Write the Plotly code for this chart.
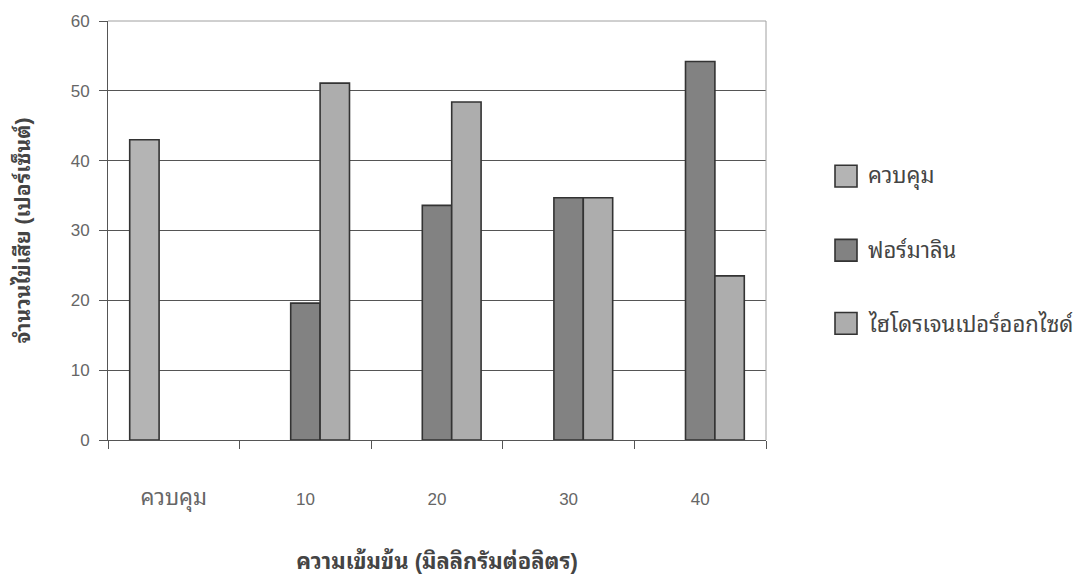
import plotly.graph_objects as go

# Egg spoilage by treatment and concentration
categories = ["ควบคุม", "10", "20", "30", "40"]
control = [43.0, None, None, None, None]
formalin = [None, 19.6, 33.6, 34.7, 54.2]
peroxide = [None, 51.1, 48.4, 34.7, 23.5]

series_names = ["ควบคุม", "ฟอร์มาลิน", "ไฮโดรเจนเปอร์ออกไซด์"]
series_colors = ["#b4b4b4", "#828282", "#adadad"]

FONT = "Liberation Sans, Noto Sans Thai Looped, Noto Sans Thai, Arial, sans-serif"

W, H = 1089, 585
ML, MR, MT, MB = 108, 323, 16, 145
PW, PH = W - ML - MR, H - MT - MB


def px_x(px):
    return (px - ML) / PW


def px_y(py):
    return (H - MB - py) / PH


# wider rendering for Thai tick text
tick_text = [
    f"<span style='font-size:22px'>{c}</span>" if not c.isdigit() else c
    for c in categories
]

fig = go.Figure()
for name, vals, color in zip(series_names, [control, formalin, peroxide], series_colors):
    fig.add_trace(go.Bar(
        x=categories, y=vals, name=name, showlegend=False,
        marker=dict(color=color, line=dict(color="#333333", width=1.6)),
    ))

fig.update_layout(
    width=W, height=H,
    margin=dict(l=ML, r=MR, t=MT, b=MB),
    paper_bgcolor="white", plot_bgcolor="white",
    barmode="group", bargap=0.33, bargroupgap=0,
    font=dict(family=FONT, color="#555555", size=17),
    xaxis=dict(
        type="category", tickson="boundaries",
        tickvals=categories, ticktext=tick_text,
        ticks="outside", ticklen=8, tickcolor="#555555",
        showline=True, linecolor="#555555", linewidth=1,
        showgrid=False, ticklabelstandoff=44,
        tickfont=dict(size=17, color="#666666"),
        title=dict(text="<b>ความเข้มข้น (มิลลิกรัมต่อลิตร)</b>", standoff=42,
                   font=dict(size=22, color="#444444")),
    ),
    yaxis=dict(
        range=[0, 60], dtick=10,
        ticks="outside", ticklen=8, tickcolor="#555555",
        showline=True, linecolor="#555555", linewidth=1,
        showgrid=True, gridcolor="#555555", gridwidth=1,
        zeroline=False, ticklabelstandoff=6,
        tickfont=dict(size=17, color="#666666"),
        title=dict(text="<b>จำนวนไข่เสีย (เปอร์เซ็นต์)</b>", standoff=34,
                   font=dict(size=21, color="#444444")),
    ),
)

# light frame on the top and right sides of the plotting area
fig.add_shape(type="line", xref="paper", yref="paper", x0=0, x1=1, y0=1, y1=1,
              line=dict(color="#a0a0a0", width=1))
fig.add_shape(type="line", xref="paper", yref="paper", x0=1, x1=1, y0=0, y1=1,
              line=dict(color="#a0a0a0", width=1))

# legend: swatch plus label for each series
legend_rows = [173, 248, 322]
for name, color, cy in zip(series_names, series_colors, legend_rows):
    fig.add_shape(type="rect", xref="paper", yref="paper",
                  x0=px_x(835), x1=px_x(857), y0=px_y(cy + 11), y1=px_y(cy - 11),
                  fillcolor=color, line=dict(color="#333333", width=1.6))
    fig.add_annotation(xref="paper", yref="paper", x=px_x(866), y=px_y(cy),
                       xanchor="left", yanchor="middle", showarrow=False,
                       text=name, font=dict(size=22, color="#444444", family=FONT))

fig.write_html("out.html")
